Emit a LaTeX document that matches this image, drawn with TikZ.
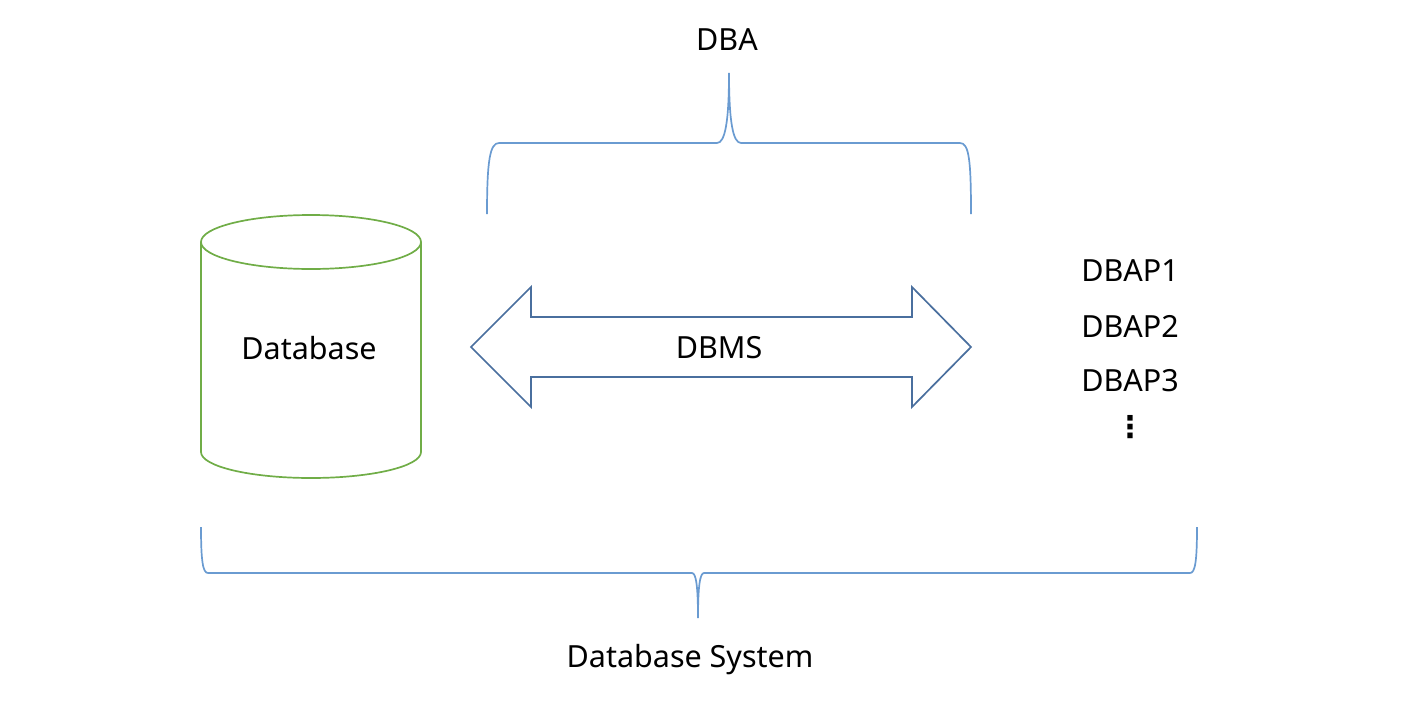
\documentclass[tikz,border=0pt]{standalone}
\usepackage{fontspec}
\setmainfont{Noto Sans}
\newfontfamily\symfont{DejaVu Sans}
\definecolor{bracecol}{HTML}{6A9BD1}
\definecolor{dbcol}{HTML}{70AD47}
\definecolor{arrowcol}{HTML}{4A6F9E}
\begin{document}
\begin{tikzpicture}[x=1pt,y=-1pt,
  lbl/.style={inner sep=0pt,font=\fontsize{30.5}{36}\selectfont},
  bracepath/.style={draw=bracecol,line width=1.7pt},
  dbshape/.style={draw=dbcol,line width=1.7pt},
  arrowshape/.style={draw=arrowcol,line width=1.7pt,line join=miter}]
\useasboundingbox (0,0) rectangle (1402,720);
% top brace
\draw[bracepath] (487,214) .. controls (487,160) and (490,143) .. (499,143) -- (717,143)
  .. controls (725,143) and (729,122) .. (729,73)
  .. controls (729,122) and (733,143) .. (741,143) -- (960,143)
  .. controls (969,143) and (971,160) .. (971,214);
\node[lbl] (dba) at (727,40) {DBA};
% cylinder
\draw[dbshape] (311,242) ellipse [x radius=110pt,y radius=27pt];
\draw[dbshape] (201,242) -- (201,452) arc[start angle=180,end angle=360,x radius=110pt,y radius=26pt] -- (421,242);
\node[lbl] (db) at (309,348) {Database};
% double arrow
\draw[arrowshape] (471,347) -- (531,287) -- (531,317) -- (912,317) -- (912,287) -- (971,347)
  -- (912,407) -- (912,377) -- (531,377) -- (531,407) -- cycle;
\node[lbl] (dbms) at (719,348) {DBMS};
% applications
\node[lbl] (ap1) at (1130,271) {DBAP1};
\node[lbl] (ap2) at (1130,326) {DBAP2};
\node[lbl] (ap3) at (1130,381) {DBAP3};
\node[inner sep=0pt,font=\symfont\bfseries\fontsize{30}{36}\selectfont] (dots) at (1130,427) {⋮};
% bottom brace
\draw[bracepath] (201,527) .. controls (201,562) and (203,573) .. (208,573) -- (692,573)
  .. controls (696,573) and (698,586) .. (698,618)
  .. controls (698,586) and (700,573) .. (704,573) -- (1190,573)
  .. controls (1195,573) and (1197,562) .. (1197,527);
\node[lbl] (sys) at (690,660) {Database System};
\end{tikzpicture}
\end{document}
